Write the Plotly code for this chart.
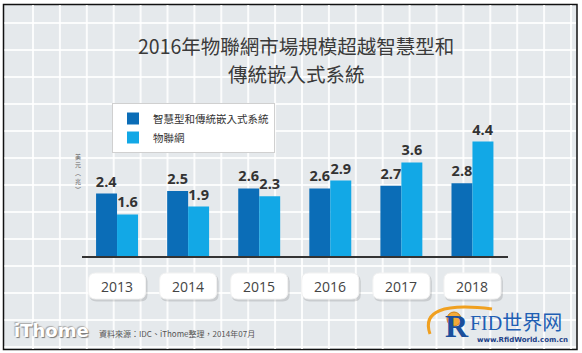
import plotly.graph_objects as go

# ---- data ----
years = ["2013", "2014", "2015", "2016", "2017", "2018"]
embedded = [2.4, 2.5, 2.6, 2.6, 2.7, 2.8]
iot = [1.6, 1.9, 2.3, 2.9, 3.6, 4.4]
series_names = ["智慧型和傳統嵌入式系統", "物聯網"]
title_lines = ["2016年物聯網市場規模超越智慧型和", "傳統嵌入式系統"]
y_label = ["美", "元", "︵", "兆", "︶"]
source_text = "資料來源：IDC、iThome整理，2014年07月"

# ---- geometry helpers (pixel -> paper) ----
W, H = 582, 353
def px(x):
    return x / W
def py(y):
    return 1 - y / H

CJK = "Noto Sans CJK TC"
X0, X1 = 81.5, 508.0
BASE, TOP = 256.0, 113.0

fig = go.Figure()
fig.add_trace(go.Bar(
    x=years, y=embedded, name=series_names[0],
    marker=dict(color="#0b6db7", line=dict(width=0)),
    texttemplate="%{y:.1f}", textposition="outside", cliponaxis=False,
    constraintext="none",
    textfont=dict(family="Open Sans", size=14.5, color="#333333", weight="bold"),
))
fig.add_trace(go.Bar(
    x=years, y=iot, name=series_names[1],
    marker=dict(color="#12a8e6", line=dict(width=0)),
    texttemplate="%{y:.1f}", textposition="outside", cliponaxis=False,
    constraintext="none",
    textfont=dict(family="Open Sans", size=14.5, color="#333333", weight="bold"),
))

shapes = []
# background panel with black border
shapes.append(dict(type="rect", xref="paper", yref="paper", layer="below",
                   x0=px(3.5), x1=px(577), y0=py(349.5), y1=py(4.5),
                   fillcolor="#e5e9ec", line=dict(color="#111111", width=1.5)))
# decorative white grid
gx = 33.0
while gx < 576:
    shapes.append(dict(type="line", xref="paper", yref="paper", layer="below",
                       x0=px(gx), x1=px(gx), y0=py(349), y1=py(5),
                       line=dict(color="rgba(255,255,255,0.85)", width=2)))
    gx += 26.9
gy = 23.0
while gy < 349:
    shapes.append(dict(type="line", xref="paper", yref="paper", layer="below",
                       x0=px(4.5), x1=px(576), y0=py(gy), y1=py(gy),
                       line=dict(color="rgba(255,255,255,0.85)", width=2)))
    gy += 27.0

def rounded_rect(cx, cy, w, h, r):
    l, rr, t, b = cx - w / 2, cx + w / 2, cy - h / 2, cy + h / 2
    pts = [
        f"M {px(l + r)} {py(t)}",
        f"L {px(rr - r)} {py(t)}",
        f"Q {px(rr)} {py(t)} {px(rr)} {py(t + r)}",
        f"L {px(rr)} {py(b - r)}",
        f"Q {px(rr)} {py(b)} {px(rr - r)} {py(b)}",
        f"L {px(l + r)} {py(b)}",
        f"Q {px(l)} {py(b)} {px(l)} {py(b - r)}",
        f"L {px(l)} {py(t + r)}",
        f"Q {px(l)} {py(t)} {px(l + r)} {py(t)}",
        "Z",
    ]
    return " ".join(pts)

annotations = []
cw = (X1 - X0) / len(years)
for i, yr in enumerate(years):
    cx = X0 + (i + 0.5) * cw
    # shadow
    shapes.append(dict(type="path", xref="paper", yref="paper", layer="above",
                       path=rounded_rect(cx + 1.5, 288, 58, 27, 7),
                       fillcolor="rgba(0,0,0,0.12)", line=dict(width=0)))
    shapes.append(dict(type="path", xref="paper", yref="paper", layer="above",
                       path=rounded_rect(cx, 286, 57, 26, 7),
                       fillcolor="#ffffff", line=dict(color="#f2f2f2", width=1)))
    annotations.append(dict(x=px(cx), y=py(286.5), xref="paper", yref="paper",
                            text=yr, showarrow=False, xanchor="center", yanchor="middle",
                            font=dict(family="Open Sans", size=14, color="#444444")))

# title (two lines)
for k, (line, yc) in enumerate(zip(title_lines, [45.5, 73.0])):
    annotations.append(dict(x=px(296), y=py(yc), xref="paper", yref="paper",
                            text=line, showarrow=False, borderpad=0,
                            xanchor="center", yanchor="middle",
                            font=dict(family=CJK, size=19.5, color="#3a3a3a")))

# vertical y-axis unit label (stacked characters)
for k, ch in enumerate(y_label):
    annotations.append(dict(x=px(78), y=py(156.5 + k * 8.2), xref="paper", yref="paper",
                            text=ch, showarrow=False, borderpad=0,
                            xanchor="center", yanchor="middle",
                            font=dict(family=CJK, size=6, color="#666666")))

# footer: iThome logo
annotations.append(dict(x=px(12), y=py(330), xref="paper", yref="paper",
                        text="<b>iThome</b>", showarrow=False, xanchor="left", yanchor="middle",
                        font=dict(family="DejaVu Sans", size=18, color="#ffffff",
                                  shadow="1px 1px 1px #777777, -1px -1px 1px #aaaaaa")))
annotations.append(dict(x=px(97), y=py(333), xref="paper", yref="paper",
                        text=source_text, showarrow=False, xanchor="left", yanchor="middle",
                        font=dict(family=CJK, size=8, color="#555555")))

# footer: RFID watermark
shapes.append(dict(type="path", xref="paper", yref="paper", layer="above",
                   path=f"M {px(430)} {py(334)} Q {px(418)} {py(300)} {px(492)} {py(309)}",
                   line=dict(color="#f0a020", width=3)))
shapes.append(dict(type="circle", xref="paper", yref="paper", layer="above",
                   x0=px(447), x1=px(461), y0=py(326), y1=py(312),
                   fillcolor="#f3a93a", line=dict(color="#d08010", width=1)))
annotations.append(dict(x=px(443), y=py(326), xref="paper", yref="paper",
                        text="<b>R</b>", showarrow=False, xanchor="left", yanchor="middle",
                        font=dict(family="Liberation Serif", size=32, color="#1b4f9c")))
annotations.append(dict(x=px(468), y=py(323), xref="paper", yref="paper",
                        text="FID世界网", showarrow=False, xanchor="left", yanchor="middle",
                        font=dict(family="Liberation Serif, Noto Sans CJK SC", size=20, color="#1f5fb4")))
annotations.append(dict(x=px(570), y=py(340), xref="paper", yref="paper",
                        text="<b>www.RfidWorld.com.cn</b>", showarrow=False, xanchor="right", yanchor="middle",
                        font=dict(family="DejaVu Sans", size=7, color="#1b3f88")))

fig.update_layout(
    width=W, height=H,
    margin=dict(l=0, r=0, t=0, b=0),
    paper_bgcolor="#ffffff",
    plot_bgcolor="rgba(0,0,0,0)",
    barmode="group", bargap=0.41, bargroupgap=0,
    xaxis=dict(domain=[px(X0), px(X1)], showticklabels=False, showgrid=False,
               zeroline=False, ticks="", showline=True, linecolor="#333333", linewidth=2,
               fixedrange=True),
    yaxis=dict(domain=[py(BASE), py(TOP)], range=[0, 5.5], visible=False,
               showgrid=False, zeroline=False, fixedrange=True),
    legend=dict(x=px(112), y=py(103), xanchor="left", yanchor="top",
                bgcolor="#ffffff", bordercolor="#d0d0d0", borderwidth=1,
                font=dict(family=CJK, size=10.5, color="#333333"),
                traceorder="normal", tracegroupgap=0),
    shapes=shapes,
    annotations=annotations,
    showlegend=True,
)

fig.write_html("out.html")
